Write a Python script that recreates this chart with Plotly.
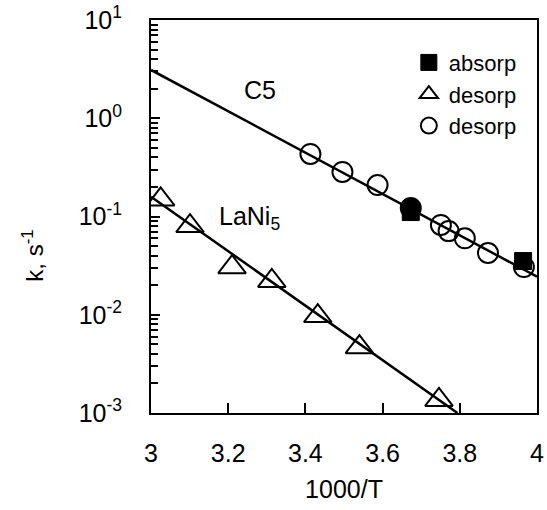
import plotly.graph_objects as go

# ---- data ----
c5_x = [3.413, 3.496, 3.587, 3.673, 3.751, 3.771, 3.813, 3.873, 3.966]
c5_k = [0.433, 0.284, 0.209, 0.122, 0.082, 0.071, 0.060, 0.0425, 0.0306]
c5_sym = ["circle-open"] * 3 + ["circle"] + ["circle-open"] * 5

abs_x = [3.673, 3.964]
abs_k = [0.111, 0.0352]

lani_x = [3.025, 3.101, 3.210, 3.313, 3.432, 3.540, 3.746]
lani_k = [0.149, 0.080, 0.0305, 0.0221, 0.0097, 0.00468, 0.00136]

c5_fit_x = [3.0, 4.0]
c5_fit_k = [3.10, 0.0244]
lani_fit_x = [3.0, 3.794]
lani_fit_k = [0.159, 0.001]

x_ticks = [3, 3.2, 3.4, 3.6, 3.8, 4]
x_ticktext = ["3", "3.2", "3.4", "3.6", "3.8", "4"]
y_ticks = [0.001, 0.01, 0.1, 1, 10]
y_ticktext = ["10<sup>-3</sup>", "10<sup>-2</sup>", "10<sup>-1</sup>", "10<sup>0</sup>", "10<sup>1</sup>"]

FONT = "Liberation Sans, Arial, sans-serif"

fig = go.Figure()
fig.add_trace(go.Scatter(x=c5_fit_x, y=c5_fit_k, mode="lines",
                         line=dict(color="black", width=2.5), showlegend=False, hoverinfo="skip"))
fig.add_trace(go.Scatter(x=lani_fit_x, y=lani_fit_k, mode="lines",
                         line=dict(color="black", width=2.5), showlegend=False, hoverinfo="skip"))
fig.add_trace(go.Scatter(x=abs_x, y=abs_k, mode="markers", name="absorp",
                         marker=dict(symbol="square", size=17, color="black",
                                     line=dict(color="black", width=1))))
fig.add_trace(go.Scatter(x=lani_x, y=lani_k, mode="markers", name="desorp",
                         marker=dict(symbol="triangle-up-open", size=24, color="black",
                                     line=dict(color="black", width=2))))
fig.add_trace(go.Scatter(x=c5_x, y=c5_k, mode="markers", name="desorp",
                         marker=dict(symbol=c5_sym, size=20, color="black",
                                     line=dict(color="black", width=2))))

fig.add_annotation(text="C5", x=0.282, y=0.822, xref="paper", yref="paper",
                   xanchor="center", yanchor="middle",
                   showarrow=False, font=dict(size=25, color="black", family=FONT))
fig.add_annotation(text="LaNi<sub>5</sub>", x=0.256, y=0.496, xref="paper", yref="paper",
                   xanchor="center", yanchor="middle",
                   showarrow=False, font=dict(size=25, color="black", family=FONT))
fig.add_annotation(text="k, s<sup>-1</sup>", x=-0.306, y=0.40, xref="paper", yref="paper",
                   xanchor="center", yanchor="middle",
                   textangle=-90, showarrow=False, font=dict(size=24, color="black", family=FONT))

fig.update_xaxes(range=[3, 4], tickvals=x_ticks, ticktext=x_ticktext, automargin=False,
                 ticks="inside", ticklen=10, tickwidth=2, tickcolor="black",
                 showline=True, linecolor="black", linewidth=2, mirror=True,
                 showgrid=False, zeroline=False, ticklabelstandoff=17,
                 tickfont=dict(size=25, color="black", family=FONT),
                 title=dict(text="1000/T", standoff=14,
                            font=dict(size=25, color="black", family=FONT)))
fig.update_yaxes(type="log", range=[-3, 1], tickvals=y_ticks, ticktext=y_ticktext, automargin=False,
                 ticks="inside", ticklen=9, tickwidth=2, tickcolor="black",
                 minor=dict(ticks="inside", ticklen=7, tickwidth=1.5, tickcolor="black",
                            dtick="D1", showgrid=False),
                 showline=True, linecolor="black", linewidth=2, mirror=True,
                 showgrid=False, zeroline=False, ticklabelstandoff=22,
                 tickfont=dict(size=25, color="black", family=FONT))

fig.update_layout(width=547, height=510, margin=dict(l=151, r=10, t=20, b=97),
                  paper_bgcolor="white", plot_bgcolor="white",
                  font=dict(family=FONT, color="black"),
                  legend=dict(x=0.668, y=0.945, xanchor="left", yanchor="top",
                              bgcolor="rgba(0,0,0,0)", itemwidth=30,
                              font=dict(size=22, color="black", family=FONT)))

fig.write_html("out.html")
